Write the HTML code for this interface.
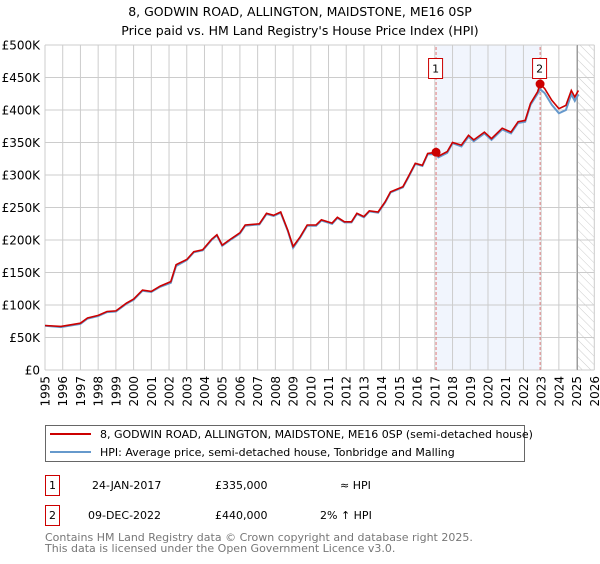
<!DOCTYPE html>
<html><head><meta charset="utf-8"><style>
body{margin:0;background:#fff;font-family:"DejaVu Sans","Liberation Sans",sans-serif;}
svg text{font-family:"DejaVu Sans","Liberation Sans",sans-serif;}
</style></head><body>
<svg id="chart" width="600" height="560" xmlns="http://www.w3.org/2000/svg">
<defs><pattern id="hatch" width="6" height="6" patternUnits="userSpaceOnUse" patternTransform="rotate(-45)"><line x1="0" y1="0" x2="0" y2="6" stroke="#ccc" stroke-width="1"/></pattern></defs>
<text x="300" y="16" text-anchor="middle" font-size="12.5">8, GODWIN ROAD, ALLINGTON, MAIDSTONE, ME16 0SP</text>
<text x="300" y="35" text-anchor="middle" font-size="12.5">Price paid vs. HM Land Registry's House Price Index (HPI)</text>
<g id="plot"></g>
<g>
<rect x="45.5" y="425.5" width="479" height="36" fill="#fff" stroke="#666"/>
<line x1="50" y1="434" x2="91" y2="434" stroke="#cc0000" stroke-width="2"/>
<text x="100" y="438" font-size="11">8, GODWIN ROAD, ALLINGTON, MAIDSTONE, ME16 0SP (semi-detached house)</text>
<line x1="50" y1="452" x2="91" y2="452" stroke="#6699cc" stroke-width="2"/>
<text x="100" y="456" font-size="11">HPI: Average price, semi-detached house, Tonbridge and Malling</text>
</g>
<g font-size="11">
<rect x="45.5" y="475.5" width="14" height="20" fill="#fff" stroke="#cc0000"/>
<text x="52.5" y="489" text-anchor="middle">1</text>
<text x="92" y="489">24-JAN-2017</text><text x="215" y="489">£335,000</text><text x="340" y="489">≈ HPI</text>
<rect x="45.5" y="505.5" width="14" height="20" fill="#fff" stroke="#cc0000"/>
<text x="52.5" y="519" text-anchor="middle">2</text>
<text x="88" y="519">09-DEC-2022</text><text x="215" y="519">£440,000</text><text x="320" y="519">2% ↑ HPI</text>
</g>
<text x="45" y="541" font-size="11" fill="#777">Contains HM Land Registry data © Crown copyright and database right 2025.</text>
<text x="45" y="552" font-size="11" fill="#777">This data is licensed under the Open Government Licence v3.0.</text>
</svg>
<script>
const years=[1995,1995.9,1997,1997.4,1998,1998.5,1999,1999.6,2000,2000.5,2001,2001.5,2002.1,2002.4,2003,2003.4,2003.9,2004.4,2004.7,2005,2005.4,2006,2006.3,2007.1,2007.5,2007.9,2008.3,2008.7,2009,2009.4,2009.8,2010.3,2010.6,2011.2,2011.5,2011.9,2012.3,2012.6,2013,2013.3,2013.8,2014.2,2014.5,2015.2,2015.5,2015.9,2016.3,2016.6,2017.07,2017.2,2017.7,2018,2018.5,2018.9,2019.2,2019.8,2020.2,2020.8,2021.3,2021.7,2022.1,2022.4,2022.8,2022.94,2023.2,2023.6,2024,2024.4,2024.7,2024.9,2025.1];
const priceK=[68.5,67,72,80,84,90,91,103,109,123,121,129,136,162,170,182,185,201,208,192,200,211,223,225,241,238,243,215,190,205,223,223,231,226,235,228,228,241,236,245,243,259,274,282,297,318,315,333,335,329,336,350,346,361,354,366,356,372,366,382,384,410,428,440,433,415,402,407,430,420,430];
const hpiK=[68,66,71,79,83,89,90,102,108,122,120,128,134,160,169,181,184,200,207,191,199,210,222,224,240,237,242,214,188,204,222,222,230,225,234,227,227,240,235,244,242,258,273,281,296,317,314,332,332,327,334,349,344,359,352,364,354,370,364,380,382,408,425,432,426,408,395,400,424,414,424];
const yTicks=[0,50,100,150,200,250,300,350,400,450,500];
const xTicks=[1995,1996,1997,1998,1999,2000,2001,2002,2003,2004,2005,2006,2007,2008,2009,2010,2011,2012,2013,2014,2015,2016,2017,2018,2019,2020,2021,2022,2023,2024,2025,2026];
const saleYears=[2017.07,2022.94];
const saleValues=[335,440];
const saleLabels=["1","2"];
const ns="http://www.w3.org/2000/svg";
const X=y=>45+(y-1995)*(594.3-45)/31;
const Y=v=>370-v*(325/500);
const g=document.getElementById('plot');
function mk(t,a){const e=document.createElementNS(ns,t);for(const k in a)e.setAttribute(k,a[k]);g.appendChild(e);return e;}
let e;
e=mk('rect',{x:X(saleYears[0]),y:Y(500),width:X(saleYears[1])-X(saleYears[0]),height:Y(0)-Y(500),fill:'#eef3fc',opacity:0.8});


e=mk('rect',{x:X(2025.05),y:Y(500),width:X(2026)-X(2025.05),height:Y(0)-Y(500),fill:'url(#hatch)'});


yTicks.forEach(v=>{
 e=mk('line',{x1:X(1995),x2:X(2026),y1:Y(v),y2:Y(v),stroke:'#ccc'});
 
 
 e=mk('text',{x:40,y:Y(v)+4.5,'text-anchor':'end','font-size':12});
 e.textContent='£'+(v===0?'0':v+'K');
 
 
});
xTicks.forEach(yr=>{
 e=mk('line',{x1:X(yr),x2:X(yr),y1:Y(0),y2:Y(500),stroke:'#ccc'});
 
 
 e=mk('text',{x:0,y:0,'font-size':12,'text-anchor':'end',transform:`translate(${X(yr)+4.5},376) rotate(-90)`});
 e.textContent=yr;
 
 
});
e=mk('line',{x1:X(2025.05),x2:X(2025.05),y1:Y(0),y2:Y(500),stroke:'#999'});


saleYears.forEach((s,i)=>{
 e=mk('line',{x1:X(s),x2:X(s),y1:Y(0),y2:Y(500),stroke:'#e06060','stroke-dasharray':'3,2','stroke-width':0.8});
 
 
});
const pts=(arr)=>years.map((y,i)=>X(y).toFixed(1)+','+Y(arr[i]).toFixed(1)).join(' ');
e=mk('polyline',{points:pts(hpiK),fill:'none',stroke:'#6699cc','stroke-width':2});


e=mk('polyline',{points:pts(priceK),fill:'none',stroke:'#cc0000','stroke-width':1.6});


saleYears.forEach((s,i)=>{
 e=mk('circle',{cx:X(s),cy:Y(saleValues[i]),r:4.5,fill:'#cc0000'});
 
 
 e=mk('rect',{x:X(s)-7.5,y:58.5,width:14,height:20,fill:'#fff',stroke:'#cc0000'});
 
 
 e=mk('text',{x:X(s)-0.5,y:72.5,'text-anchor':'middle','font-size':11});
 e.textContent=saleLabels[i];
 
 
});
</script>
</body></html>
